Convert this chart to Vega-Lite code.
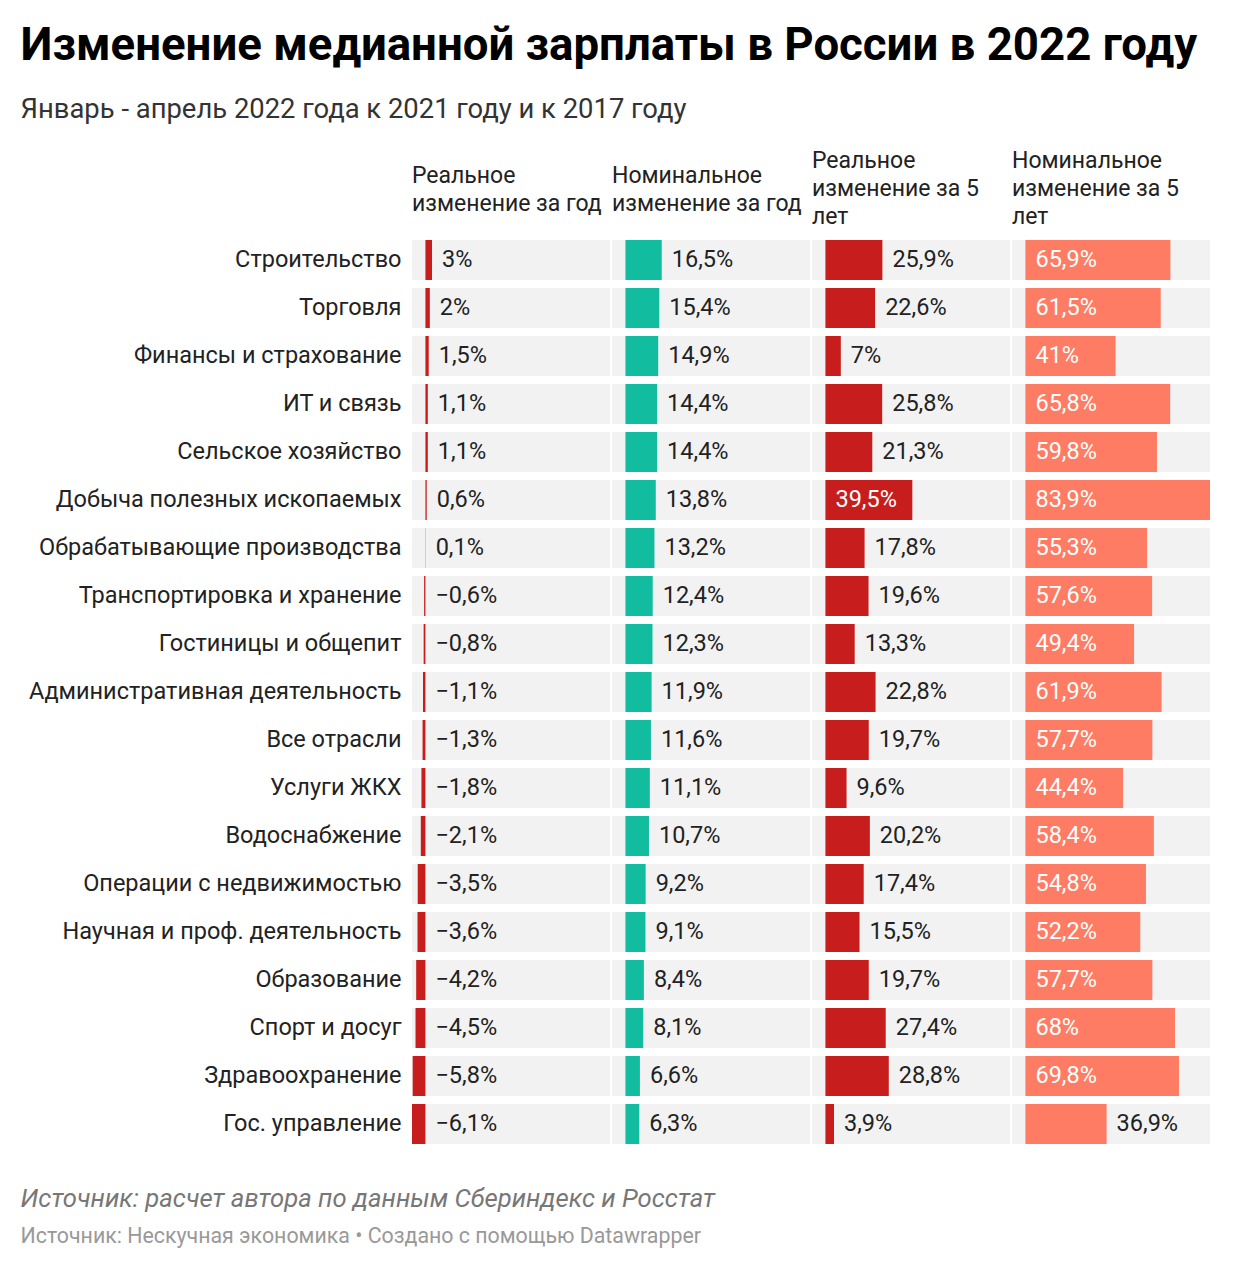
{
  "$schema": "https://vega.github.io/schema/vega-lite/v6.json",
  "padding": {"left": 20, "top": 24, "right": 20, "bottom": 20},
  "background": "white",
  "config": {
    "font": "Roboto",
    "locale": {"number": {"decimal": ",", "thousands": "\u00a0", "grouping": [3], "currency": ["", ""], "minus": "\u2212"}},
    "view": {"stroke": null},
    "concat": {"spacing": 2},
    "text": {"font": "Roboto"}
  },
  "title": {
    "text": "Изменение медианной зарплаты в России в 2022 году",
    "subtitle": "Январь - апрель 2022 года к 2021 году и к 2017 году",
    "anchor": "start",
    "frame": "bounds",
    "fontSize": 45.6,
    "fontWeight": "bold",
    "color": "#000000",
    "subtitleFontSize": 27.4,
    "subtitleColor": "#333333",
    "subtitleFont": "Roboto",
    "subtitlePadding": 26,
    "offset": 27
  },
  "data": {
    "values": [
      {"sector": "Строительство", "r1": 0.03, "n1": 0.165, "r5": 0.259, "n5": 0.659},
      {"sector": "Торговля", "r1": 0.02, "n1": 0.154, "r5": 0.226, "n5": 0.615},
      {"sector": "Финансы и страхование", "r1": 0.015, "n1": 0.149, "r5": 0.07, "n5": 0.41},
      {"sector": "ИТ и связь", "r1": 0.011, "n1": 0.144, "r5": 0.258, "n5": 0.658},
      {"sector": "Сельское хозяйство", "r1": 0.011, "n1": 0.144, "r5": 0.213, "n5": 0.598},
      {"sector": "Добыча полезных ископаемых", "r1": 0.006, "n1": 0.138, "r5": 0.395, "n5": 0.839},
      {"sector": "Обрабатывающие производства", "r1": 0.001, "n1": 0.132, "r5": 0.178, "n5": 0.553},
      {"sector": "Транспортировка и хранение", "r1": -0.006, "n1": 0.124, "r5": 0.196, "n5": 0.576},
      {"sector": "Гостиницы и общепит", "r1": -0.008, "n1": 0.123, "r5": 0.133, "n5": 0.494},
      {"sector": "Административная деятельность", "r1": -0.011, "n1": 0.119, "r5": 0.228, "n5": 0.619},
      {"sector": "Все отрасли", "r1": -0.013, "n1": 0.116, "r5": 0.197, "n5": 0.577},
      {"sector": "Услуги ЖКХ", "r1": -0.018, "n1": 0.111, "r5": 0.096, "n5": 0.444},
      {"sector": "Водоснабжение", "r1": -0.021, "n1": 0.107, "r5": 0.202, "n5": 0.584},
      {"sector": "Операции с недвижимостью", "r1": -0.035, "n1": 0.092, "r5": 0.174, "n5": 0.548},
      {"sector": "Научная и проф. деятельность", "r1": -0.036, "n1": 0.091, "r5": 0.155, "n5": 0.522},
      {"sector": "Образование", "r1": -0.042, "n1": 0.084, "r5": 0.197, "n5": 0.577},
      {"sector": "Спорт и досуг", "r1": -0.045, "n1": 0.081, "r5": 0.274, "n5": 0.68},
      {"sector": "Здравоохранение", "r1": -0.058, "n1": 0.066, "r5": 0.288, "n5": 0.698},
      {"sector": "Гос. управление", "r1": -0.061, "n1": 0.063, "r5": 0.039, "n5": 0.369}
    ]
  },
  "vconcat": [
    {
      "title": {
        "text": "Источник: расчет автора по данным Сбериндекс и Росстат",
        "subtitle": "Источник: Нескучная экономика • Создано с помощью Datawrapper",
        "orient": "bottom",
        "anchor": "start",
        "frame": "bounds",
        "dx": -8,
        "offset": 43,
        "fontSize": 25.7,
        "fontStyle": "italic",
        "fontWeight": "normal",
        "color": "#777777",
        "subtitleFontSize": 21.35,
        "subtitleColor": "#999999",
        "subtitlePadding": 13
      },
      "hconcat": [
        {
          "width": 198,
          "height": {"step": 48},
          "title": {"text": ["Реальное", "изменение за год"], "anchor": "start", "frame": "group", "offset": 24, "fontSize": 23, "fontWeight": "normal", "color": "#222222", "lineHeight": 28},
          "encoding": {
            "y": {"field": "sector", "type": "nominal", "sort": null,
              "scale": {"paddingInner": 0.1667, "paddingOuter": 0},
              "axis": {"title": null, "domain": false, "ticks": false, "labelFontSize": 23.5, "labelColor": "#222222", "labelPadding": 11, "labelLimit": 500, "labelFont": "Roboto"}}
          },
          "layer": [
            {"mark": {"type": "bar", "color": "#f2f2f2"},
             "encoding": {"x": {"datum": -0.061, "type": "quantitative", "scale": {"domain": [-0.061, 0.839], "nice": false, "zero": false}, "axis": null}, "x2": {"datum": 0.839}}},
            {"mark": {"type": "bar", "color": "#c71e1d"},
             "encoding": {"x": {"field": "r1", "type": "quantitative"}}},
            {"transform": [{"filter": "datum.r1 >= 0 && datum.r1 <= 0.389"}],
             "mark": {"type": "text", "align": "left", "baseline": "middle", "dx": 10, "fontSize": 23.5, "color": "#222222"},
             "encoding": {"x": {"field": "r1", "type": "quantitative"}, "text": {"field": "r1", "type": "quantitative", "format": ".1~%"}}},
            {"transform": [{"filter": "datum.r1 < 0"}],
             "mark": {"type": "text", "align": "left", "baseline": "middle", "dx": 10, "fontSize": 23.5, "color": "#222222"},
             "encoding": {"x": {"datum": 0, "type": "quantitative"}, "text": {"field": "r1", "type": "quantitative", "format": ".1~%"}}}
          ]
        },
        {
          "width": 198,
          "height": {"step": 48},
          "title": {"text": ["Номинальное", "изменение за год"], "anchor": "start", "frame": "group", "offset": 24, "fontSize": 23, "fontWeight": "normal", "color": "#222222", "lineHeight": 28},
          "encoding": {
            "y": {"field": "sector", "type": "nominal", "sort": null,
              "scale": {"paddingInner": 0.1667, "paddingOuter": 0}, "axis": null}
          },
          "layer": [
            {"mark": {"type": "bar", "color": "#f2f2f2"},
             "encoding": {"x": {"datum": -0.061, "type": "quantitative", "scale": {"domain": [-0.061, 0.839], "nice": false, "zero": false}, "axis": null}, "x2": {"datum": 0.839}}},
            {"mark": {"type": "bar", "color": "#12bc9f"},
             "encoding": {"x": {"field": "n1", "type": "quantitative"}}},
            {"mark": {"type": "text", "align": "left", "baseline": "middle", "dx": 10, "fontSize": 23.5, "color": "#222222"},
             "encoding": {"x": {"field": "n1", "type": "quantitative"}, "text": {"field": "n1", "type": "quantitative", "format": ".1~%"}}}
          ]
        },
        {
          "width": 198,
          "height": {"step": 48},
          "title": {"text": ["Реальное", "изменение за 5", "лет"], "anchor": "start", "frame": "group", "offset": 11, "fontSize": 23, "fontWeight": "normal", "color": "#222222", "lineHeight": 28},
          "encoding": {
            "y": {"field": "sector", "type": "nominal", "sort": null,
              "scale": {"paddingInner": 0.1667, "paddingOuter": 0}, "axis": null}
          },
          "layer": [
            {"mark": {"type": "bar", "color": "#f2f2f2"},
             "encoding": {"x": {"datum": -0.061, "type": "quantitative", "scale": {"domain": [-0.061, 0.839], "nice": false, "zero": false}, "axis": null}, "x2": {"datum": 0.839}}},
            {"mark": {"type": "bar", "color": "#c71e1d"},
             "encoding": {"x": {"field": "r5", "type": "quantitative"}}},
            {"transform": [{"filter": "datum.r5 <= 0.389"}],
             "mark": {"type": "text", "align": "left", "baseline": "middle", "dx": 10, "fontSize": 23.5, "color": "#222222"},
             "encoding": {"x": {"field": "r5", "type": "quantitative"}, "text": {"field": "r5", "type": "quantitative", "format": ".1~%"}}},
            {"transform": [{"filter": "datum.r5 > 0.389"}],
             "mark": {"type": "text", "align": "left", "baseline": "middle", "dx": 10, "fontSize": 23.5, "color": "#ffffff"},
             "encoding": {"x": {"datum": 0, "type": "quantitative"}, "text": {"field": "r5", "type": "quantitative", "format": ".1~%"}}}
          ]
        },
        {
          "width": 198,
          "height": {"step": 48},
          "title": {"text": ["Номинальное", "изменение за 5", "лет"], "anchor": "start", "frame": "group", "offset": 11, "fontSize": 23, "fontWeight": "normal", "color": "#222222", "lineHeight": 28},
          "encoding": {
            "y": {"field": "sector", "type": "nominal", "sort": null,
              "scale": {"paddingInner": 0.1667, "paddingOuter": 0}, "axis": null}
          },
          "layer": [
            {"mark": {"type": "bar", "color": "#f2f2f2"},
             "encoding": {"x": {"datum": -0.061, "type": "quantitative", "scale": {"domain": [-0.061, 0.839], "nice": false, "zero": false}, "axis": null}, "x2": {"datum": 0.839}}},
            {"mark": {"type": "bar", "color": "#ff7c64"},
             "encoding": {"x": {"field": "n5", "type": "quantitative"}}},
            {"transform": [{"filter": "datum.n5 <= 0.389"}],
             "mark": {"type": "text", "align": "left", "baseline": "middle", "dx": 10, "fontSize": 23.5, "color": "#222222"},
             "encoding": {"x": {"field": "n5", "type": "quantitative"}, "text": {"field": "n5", "type": "quantitative", "format": ".1~%"}}},
            {"transform": [{"filter": "datum.n5 > 0.389"}],
             "mark": {"type": "text", "align": "left", "baseline": "middle", "dx": 10, "fontSize": 23.5, "color": "#ffffff"},
             "encoding": {"x": {"datum": 0, "type": "quantitative"}, "text": {"field": "n5", "type": "quantitative", "format": ".1~%"}}}
          ]
        }
      ]
    }
  ]
}
